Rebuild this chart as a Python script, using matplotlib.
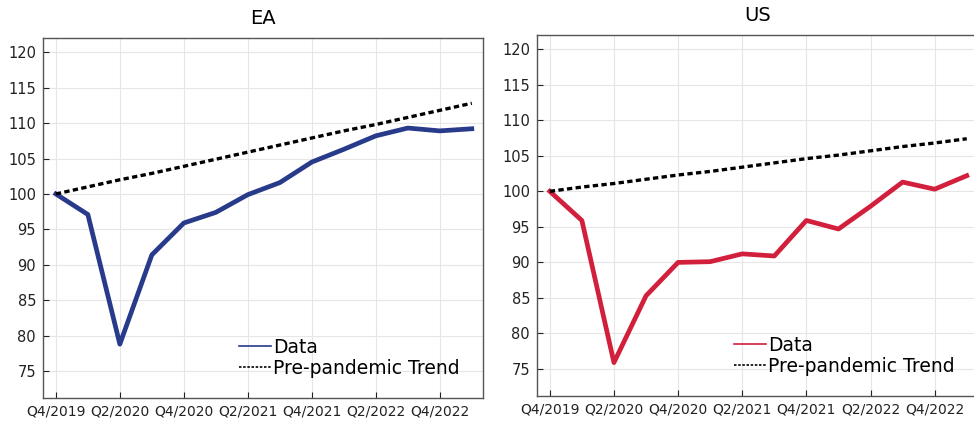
import matplotlib
matplotlib.use("Agg")
import matplotlib.pyplot as plt
from matplotlib.lines import Line2D

# Quarters Q4/2019 .. Q1/2023
quarters = ["Q4/2019", "Q1/2020", "Q2/2020", "Q3/2020", "Q4/2020", "Q1/2021", "Q2/2021",
            "Q3/2021", "Q4/2021", "Q1/2022", "Q2/2022", "Q3/2022", "Q4/2022", "Q1/2023"]

ea_data = [100.0, 97.1, 78.8, 91.4, 95.9, 97.4, 99.9, 101.6, 104.5, 106.3, 108.2, 109.3, 108.9, 109.2]
ea_trend = [100.0, 101.0, 102.0, 102.9, 103.9, 104.9, 105.9, 106.9, 107.9, 108.9, 109.8, 110.8, 111.8, 112.8]

us_data = [100.0, 95.9, 75.9, 85.3, 90.0, 90.1, 91.2, 90.9, 95.9, 94.7, 97.9, 101.3, 100.3, 102.2]
us_trend = [100.0, 100.6, 101.1, 101.7, 102.3, 102.8, 103.4, 104.0, 104.6, 105.1, 105.7, 106.3, 106.8, 107.4]

yticks = [75, 80, 85, 90, 95, 100, 105, 110, 115, 120]

fig = plt.figure(figsize=(9.74, 4.21), dpi=100)
ax_ea = fig.add_axes([0.0442, 0.0546, 0.4517, 0.855])
ax_us = fig.add_axes([0.5513, 0.0594, 0.4528, 0.8575])


def draw_panel(ax, title, data, trend, colour):
    x = list(range(len(quarters)))
    ax.plot(x, data, color=colour, lw=3.4, solid_joinstyle="round", zorder=3)
    ax.plot(x, trend, color="black", lw=2.4, linestyle=(0, (1.6, 1.0)), zorder=3)
    ax.set_xlim(-0.4, 13.35)
    ax.set_ylim(71.2, 122.0)
    ax.set_yticks(yticks)
    ax.set_xticks(x[::2])
    ax.set_xticklabels(quarters[::2])
    ax.tick_params(direction="in", length=4, width=0.8, labelsize=10.5, pad=5, colors="#222222")
    ax.tick_params(axis="x", labelsize=10)
    ax.grid(True, color="#e6e6e6", lw=0.8)
    ax.set_axisbelow(True)
    for s in ax.spines.values():
        s.set_color("#555555")
        s.set_linewidth(1.0)
    ax.set_title(title, fontsize=14, pad=10)
    handles = [Line2D([], [], color=colour, lw=1.2),
               Line2D([], [], color="black", lw=1.2, linestyle=(0, (1.5, 1.0)))]
    ax.legend(handles, ["Data", "Pre-pandemic Trend"], loc="lower right", frameon=False,
              fontsize=13.5, handlelength=1.7, handletextpad=0.1, labelspacing=0.1,
              bbox_to_anchor=(0.985, 0.01))


draw_panel(ax_ea, "EA", ea_data, ea_trend, "#283a8a")
draw_panel(ax_us, "US", us_data, us_trend, "#d21f3c")

fig.savefig("out.png", dpi=100)
